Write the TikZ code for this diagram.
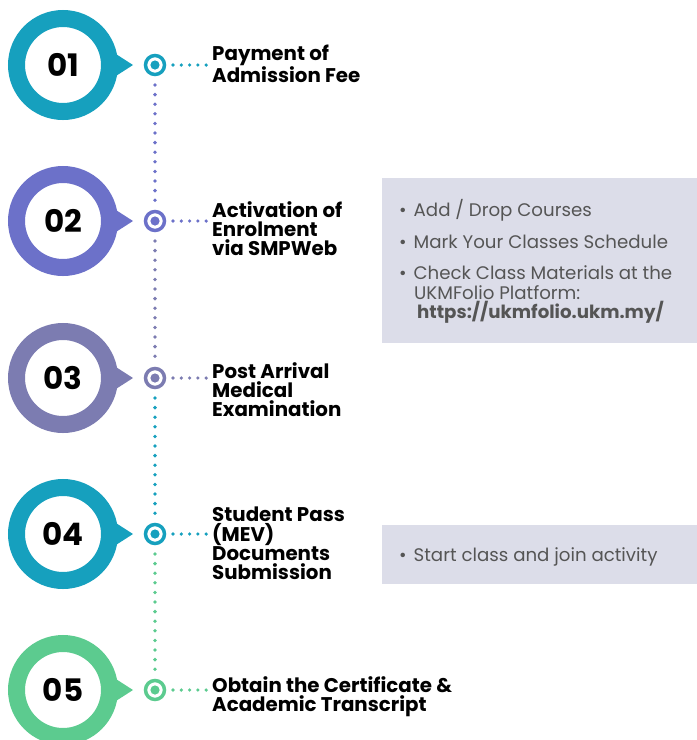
\documentclass[tikz,border=0pt]{standalone}
\usepackage{fontspec}
\setmainfont{Poppins}
\usetikzlibrary{positioning}

\definecolor{tealstep}{HTML}{16A0BE}
\definecolor{violetstep}{HTML}{6C71C9}
\definecolor{greystep}{HTML}{7C7CB1}
\definecolor{greenstep}{HTML}{5CCB8F}
\definecolor{boxfill}{HTML}{DCDDE9}
\definecolor{boxtext}{HTML}{555555}

\begin{document}
\begin{tikzpicture}[x=1pt,y=-1pt,
    ring/.style={circle, draw=#1, line width=17pt, minimum size=93pt, inner sep=0pt,
      font=\bfseries\fontsize{31}{31}\selectfont},
    marker/.style={circle, draw=#1, line width=3.5pt, minimum size=19pt, inner sep=0pt},
    steptext/.style={anchor=north west, align=left, inner sep=0pt,
      font=\bfseries\fontsize{19.8}{19.3}\selectfont},
    vdots/.style={draw=#1, line width=3.8pt, line cap=round, dash pattern=on 0pt off 9.6pt,
      shorten <=20pt, shorten >=20pt},
    hdots/.style={draw=#1, line width=3.6pt, line cap=round, dash pattern=on 0pt off 8.3pt,
      shorten <=18pt, shorten >=4pt},
    infobox/.style={fill=boxfill, draw=none, anchor=north west, inner sep=0pt},
    infotext/.style={anchor=base west, inner sep=0pt, text=boxtext,
      font=\fontsize{18.2}{18.2}\selectfont}]
    \useasboundingbox (0,0) rectangle (697,740);

    % big numbered rings with their pointers
    \fill[tealstep] (105,47) -- (133,65) -- (105,83) -- cycle;
    \node[ring=tealstep] (s1) at (63,65) {01};
    \fill[violetstep] (105,203) -- (133,221) -- (105,239) -- cycle;
    \node[ring=violetstep] (s2) at (63,221) {02};
    \fill[greystep] (105,360) -- (133,378) -- (105,396) -- cycle;
    \node[ring=greystep] (s3) at (63,378) {03};
    \fill[tealstep] (105,516) -- (133,534) -- (105,552) -- cycle;
    \node[ring=tealstep] (s4) at (63,534) {04};
    \fill[greenstep] (105,672) -- (133,690) -- (105,708) -- cycle;
    \node[ring=greenstep] (s5) at (63,690) {05};

    % small markers on the timeline
    \node[marker=tealstep] (m1) at (155,65) {};
    \fill[tealstep] (m1) circle (4.6);
    \node[marker=violetstep] (m2) at (155,221) {};
    \fill[violetstep] (m2) circle (4.6);
    \node[marker=greystep] (m3) at (155,378) {};
    \fill[greystep] (m3) circle (4.6);
    \node[marker=tealstep] (m4) at (155,534) {};
    \fill[tealstep] (m4) circle (4.6);
    \node[marker=greenstep] (m5) at (155,690) {};
    \fill[greenstep] (m5) circle (4.6);

    % vertical dotted timeline
    \draw[vdots=violetstep] (m1.center) -- (m2.center);
    \draw[vdots=greystep] (m2.center) -- (m3.center);
    \draw[vdots=tealstep] (m3.center) -- (m4.center);
    \draw[vdots=greenstep] (m4.center) -- (m5.center);

    % step titles
    \node[steptext] (t1) at (212,45) {Payment of\\Admission Fee};
    \node[steptext] (t2) at (212,201) {Activation of\\Enrolment\\via SMPWeb};
    \node[steptext] (t3) at (212,362) {Post Arrival\\Medical\\Examination};
    \node[steptext] (t4) at (212,507) {Student Pass\\(MEV)\\Documents\\Submission};
    \node[steptext] (t5) at (212,676) {Obtain the Certificate \&\\Academic Transcript};

    \draw[hdots=tealstep] (m1.center) -- (m1 -| t1.west);
    \draw[hdots=violetstep] (m2.center) -- (m2 -| t2.west);
    \draw[hdots=greystep] (m3.center) -- (m3 -| t3.west);
    \draw[hdots=tealstep] (m4.center) -- (m4 -| t4.west);
    \draw[hdots=greenstep] (m5.center) -- (m5 -| t5.west);

    % info boxes
    \node[infobox, minimum width=315pt, minimum height=165pt] (b1) at (382,178) {};
    \node[infotext] (b1a) at (399,216) {\textbullet\hspace{7pt}Add / Drop Courses};
    \node[infotext] (b1b) at (399,248) {\textbullet\hspace{7pt}Mark Your Classes Schedule};
    \node[infotext] (b1c) at (399,279) {\textbullet\hspace{7pt}Check Class Materials at the};
    \node[infotext] (b1e) at (414,299) {UKMFolio Platform:};
    \node[infotext, font=\bfseries\fontsize{18.2}{18.2}\selectfont] (b1f) at (417,318) {https://ukmfolio.ukm.my/};

    \node[infobox, minimum width=315pt, minimum height=59pt] (b2) at (382,525) {};
    \node[infotext] (b2a) at (399,561) {\textbullet\hspace{7pt}Start class and join activity};
\end{tikzpicture}
\end{document}
